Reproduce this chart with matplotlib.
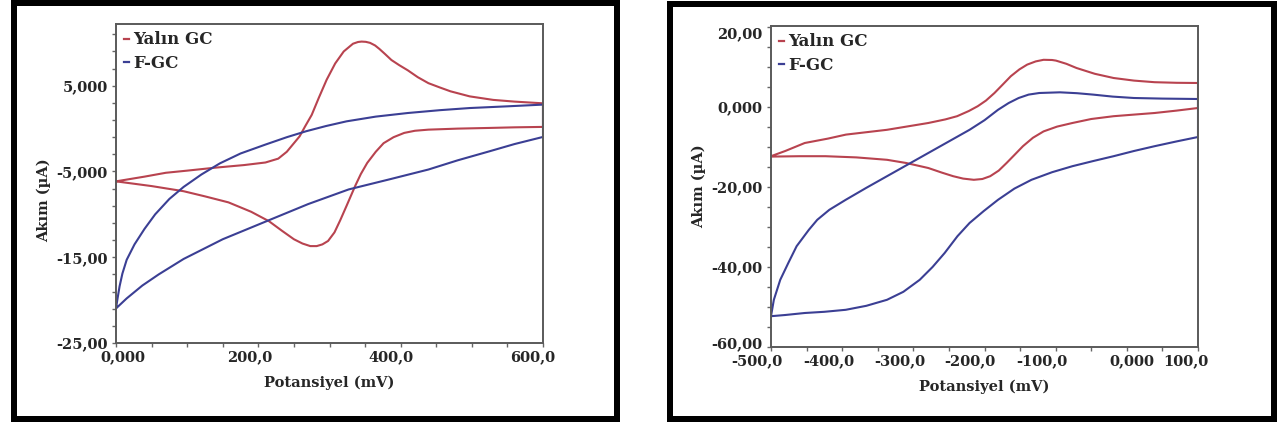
import matplotlib
matplotlib.use("Agg")
import matplotlib.pyplot as plt
import numpy as np
from matplotlib.patches import Rectangle
from matplotlib.lines import Line2D
from matplotlib.transforms import ScaledTranslation

# ---------------- data ----------------
# Left panel
L_red_x = [0, 40, 70, 100, 140, 180, 210, 228, 240, 250, 258, 266, 275, 285, 296, 308, 320, 333, 340, 345, 351, 357,
           364, 370, 378, 387, 398, 410, 424, 439, 455, 470, 497, 530, 560, 600,
           600, 560, 525, 480, 439, 420, 405, 390, 376, 365, 353, 344, 336, 324, 315, 307, 298, 290, 282,
           273, 262, 250, 233, 215, 190, 158, 125, 95, 50, 0]
L_red_y = [-6.15, -5.6, -5.15, -4.9, -4.55, -4.25, -3.95, -3.5, -2.7, -1.7, -0.9, 0.3, 1.6, 3.6, 5.7, 7.6, 9.0, 9.9, 10.1, 10.15, 10.12, 10.0,
           9.7, 9.3, 8.7, 8.0, 7.4, 6.8, 6.0, 5.3, 4.8, 4.35, 3.76, 3.35, 3.15, 2.95,
           0.2, 0.15, 0.08, 0.0, -0.12, -0.25, -0.5, -1.0, -1.7, -2.7, -4.0, -5.3, -6.7, -9.0, -10.7, -12.1, -13.1, -13.5, -13.7,
           -13.7, -13.4, -12.9, -11.9, -10.8, -9.7, -8.6, -7.9, -7.3, -6.7, -6.15]

L_blue_x = [0, 2, 5, 9, 15, 26, 40, 55, 75, 95, 120, 146, 175, 210, 240, 267, 295, 324, 365, 410, 455, 497, 550, 600,
            600, 560, 525, 480, 439, 385, 327, 270, 212, 150, 95, 60, 37, 15, 0]
L_blue_y = [-20.97, -19.9, -18.4, -16.9, -15.3, -13.5, -11.7, -10.0, -8.2, -6.8, -5.35, -4.05, -2.9, -1.86, -1.0, -0.31, 0.3, 0.85, 1.4, 1.82, 2.15, 2.4, 2.6, 2.8,
            -0.97, -1.8, -2.64, -3.7, -4.77, -5.9, -7.09, -8.8, -10.78, -12.9, -15.2, -17.0, -18.3, -19.8, -20.97]

# Right panel
R_red_x = [-500, -480, -452.6, -420, -394.7, -337, -279, -255, -238.5, -222, -209.5, -198, -186, -175, -163, -151, -140,
           -128, -117, -105, -99.6, -85, -70.7, -45, -18.6, 10, 39, 70, 100,
           100, 70, 39, 10, -18.6, -50, -76.5, -98, -117, -132, -146, -158, -169, -180, -192, -203, -215, -230, -244,
           -260, -279, -310, -337, -380, -423.6, -460, -500]
R_red_y = [-12.3, -11.0, -9.0, -7.9, -6.9, -5.7, -4.0, -3.1, -2.3, -1.0, 0.2, 1.6, 3.5, 5.5, 7.7, 9.4, 10.6,
           11.4, 11.8, 11.75, 11.6, 10.8, 9.75, 8.3, 7.25, 6.6, 6.2, 6.05, 6.0,
           -0.25, -0.9, -1.5, -1.9, -2.3, -3.0, -4.0, -4.9, -6.1, -7.7, -9.8, -12.0, -14.0, -15.9, -17.3, -18.0, -18.2, -17.9, -17.3,
           -16.4, -15.25, -14.0, -13.2, -12.6, -12.3, -12.3, -12.4]

R_blue_x = [-500, -496, -487, -475.7, -464, -446.8, -435, -418, -395, -366, -337, -308, -279, -250, -221, -200, -181, -166,
            -152, -138, -123, -94, -70, -47.5, -20, 10, 50, 100,
            100, 70, 39, 10, -18.6, -47, -76.5, -105, -134, -158, -181, -201, -221, -238, -256, -273, -291, -314, -337,
            -366, -395, -425, -452.6, -480, -500]
R_blue_y = [-52.3, -48.2, -43.2, -39.0, -34.8, -30.7, -28.2, -25.7, -23.2, -20.2, -17.3, -14.4, -11.5, -8.6, -5.7, -3.3, -0.7, 1.0,
            2.25, 3.1, 3.5, 3.67, 3.45, 3.1, 2.6, 2.25, 2.1, 2.0,
            -7.5, -8.6, -9.8, -11.0, -12.3, -13.5, -14.8, -16.3, -18.2, -20.4, -23.2, -26.0, -29.0, -32.3, -36.5, -40.0, -43.2, -46.2, -48.2,
            -49.7, -50.7, -51.2, -51.5, -52.0, -52.3]

series_names = ["Yalın GC", "F-GC"]

L_xticks = [0, 200, 400, 600]
L_xticklabels = ["0,000", "200,0", "400,0", "600,0"]
L_yticks = [5, -5, -15, -25]
L_yticklabels = ["5,000", "-5,000", "-15,00", "-25,00"]

R_xticks = [-500, -400, -300, -200, -100, 0, 100]
R_xticklabels = ["-500,0", "-400,0", "-300,0", "-200,0", "-100,0", "0,000", "100,0"]
R_yticks = [20, 0, -20, -40, -60]
R_yticklabels = ["20,00", "0,000", "-20,00", "-40,00", "-60,00"]

xlabel = "Potansiyel (mV)"
ylabel = "Akım (µA)"

# ---------------- style ----------------
W, H = 1285, 423
RED = "#b8434f"
BLUE = "#3b3f94"
TXT = "#262626"
FONT = ["DejaVu Serif"]
plt.rcParams["font.family"] = FONT
plt.rcParams["font.weight"] = "bold"

fig = plt.figure(figsize=(W / 100, H / 100), dpi=100)
fig.patch.set_facecolor("white")


def fx(px):
    return px / W


def fy(py):
    return 1 - py / H


def frame(x0, x1, y0, y1, lw_px):
    r = Rectangle((fx(x0), fy(y1)), fx(x1) - fx(x0), fy(y0) - fy(y1), transform=fig.transFigure,
                  fill=False, edgecolor="black", linewidth=lw_px * 0.72, zorder=10)
    fig.patches.append(r)


frame(14, 617, 3.5, 418.5, 6)
frame(670, 1273.5, 4.5, 418.5, 6)


def shift(label, dx_px, dy_px):
    label.set_transform(label.get_transform() +
                        ScaledTranslation(dx_px / 100, -dy_px / 100, fig.dpi_scale_trans))


def setup(ax, xlim, ylim, xt, xtl, yt, ytl, xminor, yminor, ylab_y, xlab_y, xoffs, yoffs):
    ax.set_xlim(*xlim)
    ax.set_ylim(*ylim)
    ax.set_xticks(xt)
    ax.set_xticklabels(xtl)
    ax.set_yticks(yt)
    ax.set_yticklabels(ytl)
    ax.set_xticks(xminor, minor=True)
    ax.set_yticks(yminor, minor=True)
    for s in ax.spines.values():
        s.set_color("#5a5a5a")
        s.set_linewidth(1.4)
    ax.tick_params(which="both", direction="out", length=3, width=1.0, color="#666666",
                   labelsize=10.5, labelcolor=TXT)
    ax.tick_params(axis="x", pad=2)
    ax.tick_params(axis="y", pad=3)
    for lab in ax.get_xticklabels() + ax.get_yticklabels():
        lab.set_fontweight("bold")
    for tk, d in zip(ax.xaxis.get_major_ticks(), xoffs):
        shift(tk.label1, d, 0)
    for tk, d in zip(ax.yaxis.get_major_ticks(), yoffs):
        shift(tk.label1, 0, d)
    ax.set_xlabel(xlabel, fontsize=10.5, fontweight="bold", color=TXT)
    ax.set_ylabel(ylabel, fontsize=10.5, fontweight="bold", color=TXT)
    ax.xaxis.set_label_coords(0.5, xlab_y)
    ax.yaxis.set_label_coords(-0.152, ylab_y)
    handles = [Line2D([], [], color=RED, lw=1.6), Line2D([], [], color=BLUE, lw=1.6)]
    leg = ax.legend(handles, series_names, loc="upper left", frameon=False, handlelength=0.3,
                    handletextpad=0.3, borderaxespad=0.1, borderpad=0.35, labelspacing=0.4,
                    prop={"family": FONT, "weight": "bold", "size": 12})
    for t in leg.get_texts():
        t.set_color(TXT)


axL = fig.add_axes([fx(116), fy(343), fx(543) - fx(116), fy(24) - fy(343)])
axL.plot(L_red_x, L_red_y, color=RED, lw=1.5)
axL.plot(L_blue_x, L_blue_y, color=BLUE, lw=1.5)
setup(axL, (0, 600), (-25, 12.2), L_xticks, L_xticklabels, L_yticks, L_yticklabels,
      np.arange(0, 601, 50), np.arange(-25, 12.5, 2), 0.448, -0.103,
      [7, -9, -10, -10], [0, 0, 0, 0])

axR = fig.add_axes([fx(771), fy(347), fx(1198) - fx(771), fy(26) - fy(347)])
axR.plot(R_red_x, R_red_y, color=RED, lw=1.5)
axR.plot(R_blue_x, R_blue_y, color=BLUE, lw=1.5)
setup(axR, (-500, 100), (-60, 20.25), R_xticks, R_xticklabels, R_yticks, R_yticklabels,
      np.arange(-500, 101, 50), np.arange(-60, 20.5, 5), 0.5, -0.103,
      [-14, -13, -14, -15, -14, 5, -12], [6, 0, 0, 0, -4])

fig.savefig("out.png", dpi=100)
